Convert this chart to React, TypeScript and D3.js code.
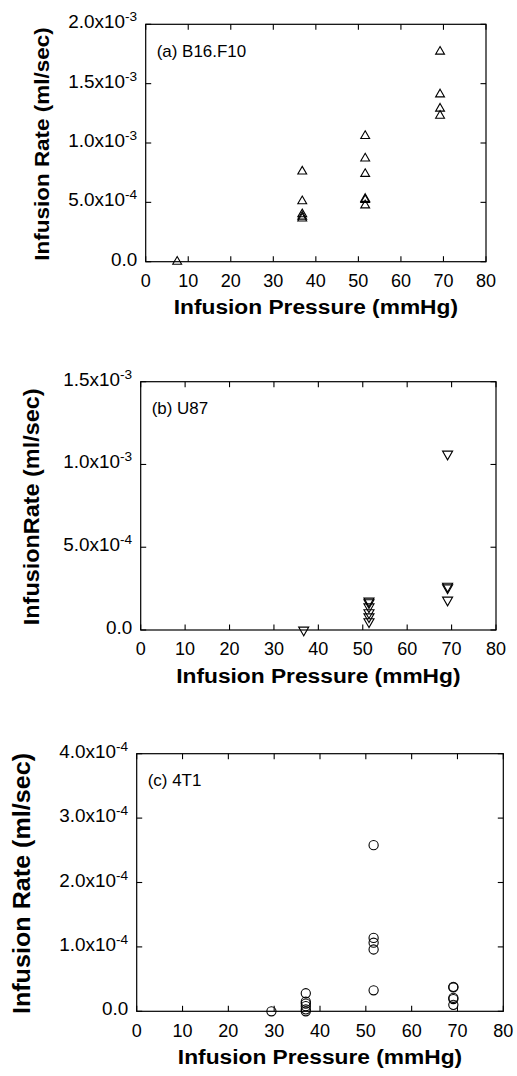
import React from 'react';
import * as d3 from 'd3';

// Infusion pressure ticks (mmHg), shared by all three panels
const pressureTicks = [0, 10, 20, 30, 40, 50, 60, 70, 80];

// (a) B16.F10
const b16Pressure = [7.4, 36.8, 36.8, 36.8, 36.8, 36.8, 51.6, 51.6, 51.6, 51.6, 51.6, 51.6, 69.2, 69.2, 69.2, 69.2];
const b16Rate = [0, 7.6e-4, 5.1e-4, 4.0e-4, 3.8e-4, 3.65e-4, 1.06e-3, 8.7e-4, 7.4e-4, 5.3e-4, 5.2e-4, 4.75e-4, 1.77e-3, 1.41e-3, 1.29e-3, 1.23e-3];
const b16Ticks = [0, 5e-4, 1e-3, 1.5e-3, 2e-3];

// (b) U87
const u87Pressure = [36.7, 51.4, 51.4, 51.4, 51.4, 51.4, 51.4, 69.1, 69.1, 69.1, 69.1];
const u87Rate = [0, 1.75e-4, 1.65e-4, 1.4e-4, 1.05e-4, 8e-5, 5e-5, 1.063e-3, 2.65e-4, 2.55e-4, 1.81e-4];
const u87Ticks = [0, 5e-4, 1e-3, 1.5e-3];

// (c) 4T1
const t41Pressure = [29.4, 36.9, 36.9, 36.9, 36.9, 36.9, 36.9, 51.7, 51.7, 51.7, 51.7, 51.7, 69.1, 69.1, 69.1, 69.1, 69.1];
const t41Rate = [0, 2.8e-5, 1.5e-5, 1.2e-5, 8e-6, 3e-6, 0, 2.58e-4, 1.14e-4, 1.065e-4, 9.6e-5, 3.26e-5, 3.8e-5, 3.7e-5, 2.1e-5, 1.9e-5, 1.0e-5];
const t41Ticks = [0, 1e-4, 2e-4, 3e-4, 4e-4];

const FONT = '"Liberation Sans", Arial, Helvetica, sans-serif';
const TICK = 5.5;

function TickLabel({ x, y, v }: { x: number; y: number; v: number }) {
  if (v === 0) {
    return (
      <text transform={`translate(${x},${y}) scale(1.05,1)`} textAnchor="end" fontSize={18}>0.0</text>
    );
  }
  const e = Math.floor(Math.log10(v) + 1e-9);
  const m = (v / Math.pow(10, e)).toFixed(1);
  return (
    <text transform={`translate(${x},${y}) scale(1.05,1)`} textAnchor="end" fontSize={18}>
      {m}x10
      <tspan fontSize={13} dy={-7}>{e}</tspan>
    </text>
  );
}

function Panel({ box, xs, ys, yTicks, marker, label, yTitle, yTitleSize, yTitleX }: any) {
  const x = d3.scaleLinear().domain([0, 80]).range([box.left, box.right]);
  const y = d3.scaleLinear().domain([0, yTicks[yTicks.length - 1]]).range([box.bottom, box.top]);
  const up = d3.symbol().type(d3.symbolTriangle).size(marker === 'down' ? 44 : 34)();

  return (
    <g fontFamily={FONT} fill="#000">
      <rect x={box.left} y={box.top} width={box.right - box.left} height={box.bottom - box.top}
        fill="none" stroke="#000" strokeWidth={1.2} />
      {pressureTicks.map(t => (
        <g key={'x' + t}>
          <line x1={x(t)} x2={x(t)} y1={box.bottom} y2={box.bottom - TICK} stroke="#000" strokeWidth={1.1} />
          <line x1={x(t)} x2={x(t)} y1={box.top} y2={box.top + TICK} stroke="#000" strokeWidth={1.1} />
          <text x={x(t)} y={box.bottom + 25.3} textAnchor="middle" fontSize={18}>{t}</text>
        </g>
      ))}
      {yTicks.map((t: number) => (
        <g key={'y' + t}>
          <line x1={box.left} x2={box.left + TICK} y1={y(t)} y2={y(t)} stroke="#000" strokeWidth={1.1} />
          <line x1={box.right} x2={box.right - TICK} y1={y(t)} y2={y(t)} stroke="#000" strokeWidth={1.1} />
          <TickLabel x={box.left - 8.5} y={y(t) + 4} v={t} />
        </g>
      ))}
      <text transform={`translate(${box.left + 11},${box.top + 32.5}) scale(1.06,1)`} fontSize={16}>{label}</text>
      <text transform={`translate(${(box.left + box.right) / 2},${box.bottom + 52.5}) scale(1.11,1)`}
        textAnchor="middle" fontSize={20.5} fontWeight="bold">Infusion Pressure (mmHg)</text>
      <text transform={`translate(${yTitleX},${(box.top + box.bottom) / 2 + 1}) rotate(-90) scale(1.07,1)`}
        textAnchor="middle" fontSize={yTitleSize} fontWeight="bold">{yTitle}</text>
      {xs.map((px: number, i: number) => {
        const cx = x(px);
        const cy = y(ys[i]);
        if (marker === 'circle') {
          return <circle key={i} cx={cx} cy={cy} r={4.6} fill="none" stroke="#000" strokeWidth={1.1} />;
        }
        return (
          <path key={i} d={up as string}
            transform={`translate(${cx},${cy})${marker === 'down' ? ' rotate(180)' : ''}`}
            fill="none" stroke="#000" strokeWidth={1.1} />
        );
      })}
    </g>
  );
}

export default function App() {
  return (
    <svg width={517} height={1076} style={{ position: 'absolute', left: 0, top: 0, background: '#fff' }}>
      <rect width={517} height={1076} fill="#fff" />
      <Panel box={{ left: 145.7, right: 486, top: 24.3, bottom: 261.7 }}
        xs={b16Pressure} ys={b16Rate} yTicks={b16Ticks} marker="up"
        label="(a) B16.F10" yTitle="Infusion Rate (ml/sec)" yTitleSize={21} yTitleX={48.8} />
      <Panel box={{ left: 140.7, right: 496, top: 381.7, bottom: 630 }}
        xs={u87Pressure} ys={u87Rate} yTicks={u87Ticks} marker="down"
        label="(b) U87" yTitle="InfusionRate (ml/sec)" yTitleSize={21.9} yTitleX={38.7} />
      <Panel box={{ left: 136.7, right: 503.3, top: 753.7, bottom: 1011.3 }}
        xs={t41Pressure} ys={t41Rate} yTicks={t41Ticks} marker="circle"
        label="(c) 4T1" yTitle="Infusion Rate (ml/sec)" yTitleSize={23.5} yTitleX={30.2} />
    </svg>
  );
}
